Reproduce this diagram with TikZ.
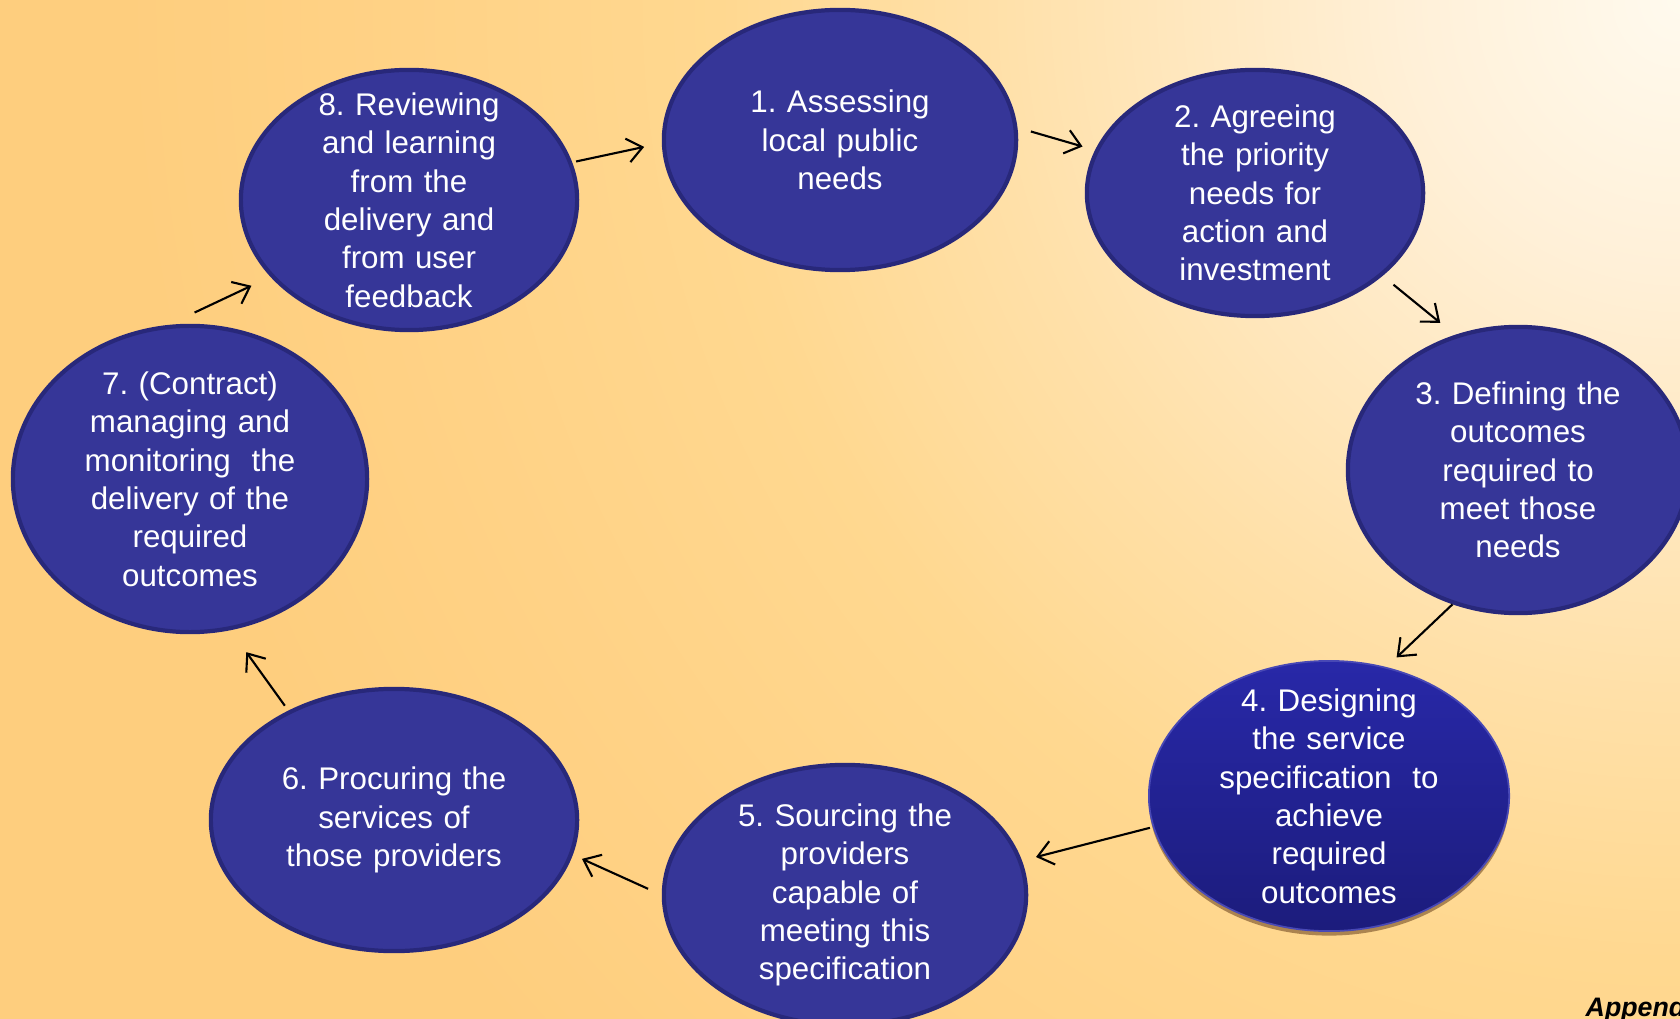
\documentclass[tikz,border=0pt]{standalone}
\usepackage{fontspec}
\setmainfont{Liberation Sans}
\usetikzlibrary{shapes.geometric,arrows.meta,shadows}

\definecolor{bgbase}{HTML}{FECE7E}
\definecolor{glowa}{HTML}{FFFAEE}
\definecolor{glowb}{HTML}{FFF0D8}
\definecolor{glowc}{HTML}{FFE0A8}
\definecolor{glowd}{HTML}{FFD890}
\definecolor{glowe}{HTML}{FFD286}
\definecolor{stagefill}{HTML}{363698}
\definecolor{stageline}{HTML}{28287A}
\definecolor{hitop}{HTML}{2828A8}
\definecolor{hibot}{HTML}{1C1C7C}

\pgfdeclareradialshading{bgglow}{\pgfpoint{0bp}{0bp}}{%
  color(0bp)=(glowa); color(3.4bp)=(glowb); color(8.7bp)=(glowc);
  color(12bp)=(glowd); color(15.9bp)=(glowe); color(19.5bp)=(bgbase);
  color(50bp)=(bgbase)}

\begin{document}
\frenchspacing
\begin{tikzpicture}[x=0.01cm, y=-0.01cm,
  stage/.style={ellipse, draw=stageline, line width=1.2pt, fill=stagefill, inner sep=0},
  stagehi/.style={ellipse, draw=hitop!85!white, line width=0.5pt, top color=hitop, bottom color=hibot, inner sep=0,
    drop shadow={shadow xshift=0pt, shadow yshift=-0.045cm, fill=brown!60!black, opacity=0.6}},
  lbl/.style={text=white, align=center, text width=3.3cm, inner sep=0, font=\fontsize{8.9}{10.9}\selectfont},
  flow/.style={-{Straight Barb[length=1.5mm,width=2.4mm]}, line width=0.6pt}]

 \useasboundingbox (0,0) rectangle (1680,1019);
 \clip (0,0) rectangle (1680,1019);
 \fill[bgbase] (0,0) rectangle (1680,1019);
 \shade[shading=bgglow] (1680,0) circle (2000);

 % stages
 \foreach \i/\cx/\cy/\rx/\ry/\sty/\txt in {
    1/840/140/176/130/stage/{1. Assessing\\local public\\needs},
    2/1255/193/168/123/stage/{2. Agreeing\\the priority\\needs for\\action and\\investment},
    3/1518/470/170/143/stage/{3. Defining the\\outcomes\\required to\\meet those\\needs},
    4/1329/796/180/135/stagehi/{4. Designing\\the service\\specification ~to\\achieve\\required\\outcomes},
    5/845/895/181/130/stage/{5. Sourcing the\\providers\\capable of\\meeting this\\specification},
    6/394/820/183/131/stage/{6. Procuring the\\services of\\those providers},
    7/190/479/177/153/stage/{7. (Contract)\\managing and\\monitoring ~the\\delivery of the\\required\\outcomes},
    8/409/200/168/130/stage/{8. Reviewing\\and learning\\from the\\delivery and\\from user\\feedback} } {
        \node[\sty, minimum width=\rx*0.02cm, minimum height=\ry*0.02cm] (n\i) at (\cx,\cy) {};
        \node[lbl] (t\i) at (n\i) {\txt};
 }

 % arrows
 \foreach \a/\b/\s/\e/\ga/\gb in {8/1/13/181/0.4/1.8, 1/2/4/165/1.4/1.3, 2/3/327/115/1.4/1.9,
    3/4/244/66/0/1.4, 4/5/190/11/0.3/1.45, 5/6/180/349/1.5/1.0, 6/7/134/285/0.6/2.7, 7/8/98/209/2.9/2.1}
 	\path[draw, flow, shorten <=\ga mm, shorten >=\gb mm] (n\a.\s) -- (n\b.\e);

 \node[anchor=base west, inner sep=0, font=\fontsize{7.6}{9}\selectfont\bfseries\itshape] (appx) at (1585,1016) {Appendix};

\end{tikzpicture}
\end{document}
